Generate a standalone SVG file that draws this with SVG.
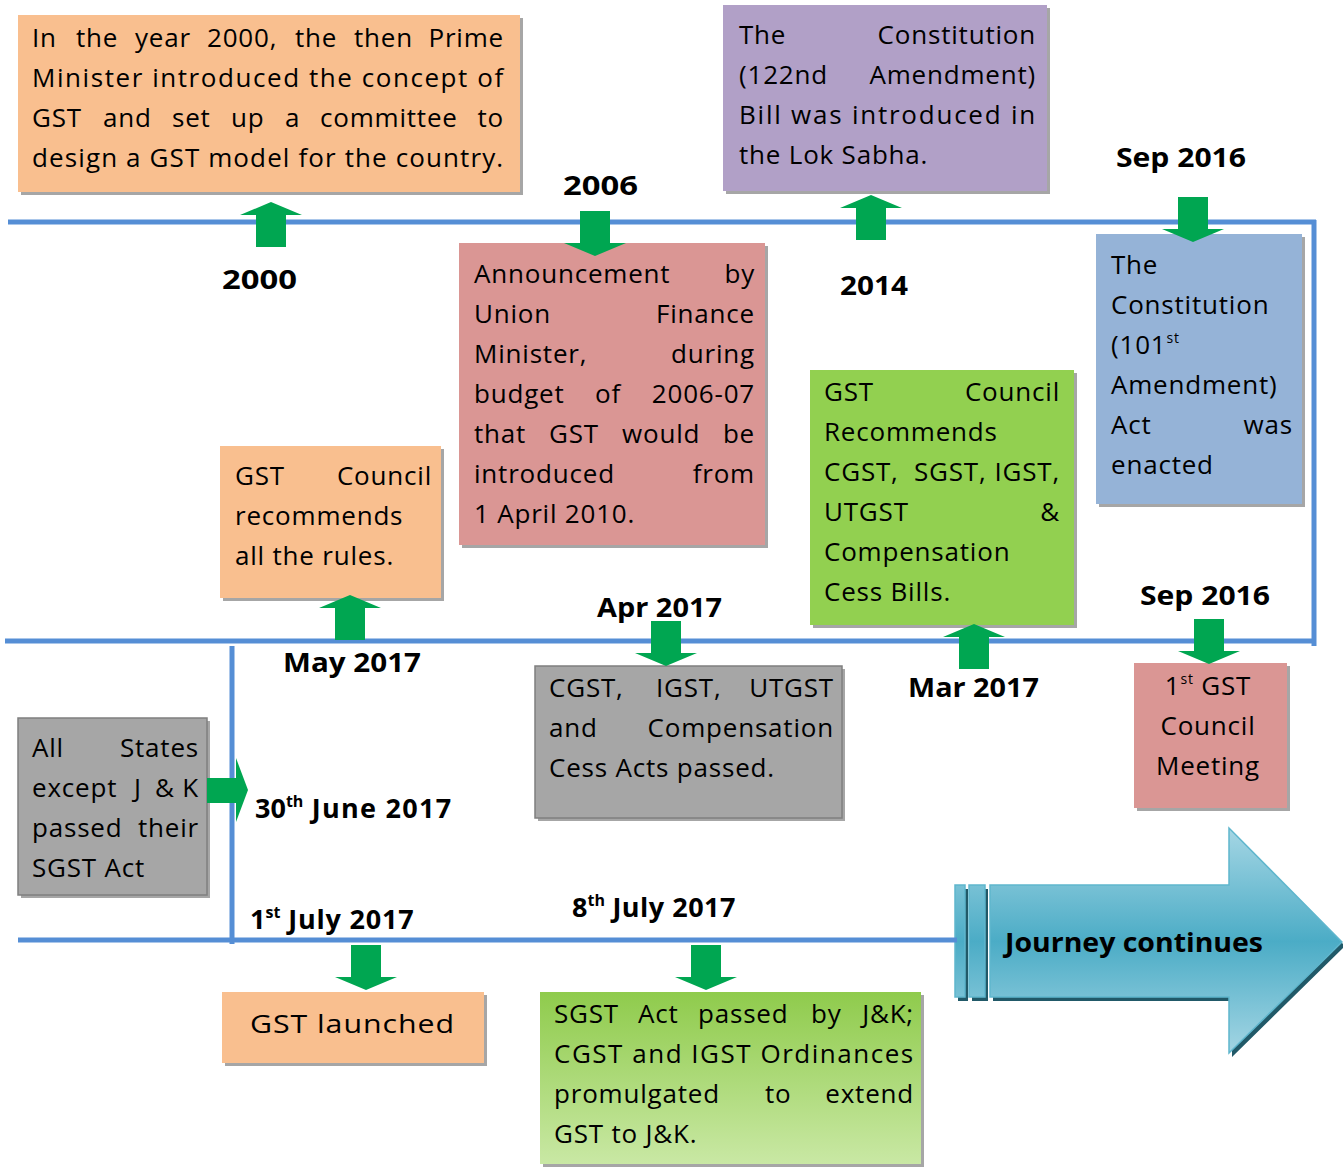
<svg xmlns="http://www.w3.org/2000/svg" width="1343" height="1168" viewBox="0 0 1343 1168">
<defs>
<style>
.t{font-family:"Open Sans","Liberation Sans",sans-serif;font-size:26px;fill:#000;letter-spacing:0.8px}
.e{text-anchor:end}
.c{text-anchor:middle}
.b{font-family:"Open Sans","Liberation Sans",sans-serif;font-size:27px;font-weight:700;fill:#000}
.sh{fill:#a6a6a6}
.ln{stroke:#558ED5;stroke-width:5;fill:none}
.ga{fill:#00A651}
</style>
<linearGradient id="jg" x1="0" y1="828" x2="0" y2="1055" gradientUnits="userSpaceOnUse">
<stop offset="0" stop-color="#A5D6E4"/>
<stop offset="0.5" stop-color="#4BACC6"/>
<stop offset="1" stop-color="#A5D6E4"/>
</linearGradient>
<linearGradient id="gg" x1="0" y1="0" x2="0" y2="1">
<stop offset="0" stop-color="#8FCB4C"/>
<stop offset="1" stop-color="#C9E8A4"/>
</linearGradient>
<path id="up" d="M-31,13 L0,0 L31,13 L15,13 L15,45 L-15,45 L-15,13 Z"/>
<path id="dn" d="M-15,0 L15,0 L15,32 L31,32 L0,45 L-31,32 L-15,32 Z"/>
</defs>

<g id="n2000">
<rect class="sh" x="21" y="18" width="502" height="177"/>
<rect x="18" y="15" width="502" height="177" fill="#F9BF8F"/>
<text class="t" x="32" y="47">In</text><text class="t" x="76" y="47">the</text><text class="t" x="135" y="47">year</text><text class="t" x="207" y="47">2000,</text><text class="t" x="295" y="47">the</text><text class="t" x="354" y="47">then</text><text class="t e" x="504" y="47">Prime</text>
<text class="t" x="32" y="87" textLength="472" lengthAdjust="spacing">Minister introduced the concept of</text>
<text class="t" x="32" y="127">GST</text><text class="t" x="103" y="127">and</text><text class="t" x="172" y="127">set</text><text class="t" x="231" y="127">up</text><text class="t" x="285" y="127">a</text><text class="t" x="320" y="127">committee</text><text class="t e" x="504" y="127">to</text>
<text class="t" x="32" y="167" textLength="472" lengthAdjust="spacing">design a GST model for the country.</text>
</g>

<g id="n2014">
<rect class="sh" x="726" y="8" width="324" height="186"/>
<rect x="723" y="5" width="324" height="186" fill="#B1A0C7"/>
<text class="t" x="739" y="44">The</text><text class="t e" x="1036" y="44">Constitution</text>
<text class="t" x="739" y="84">(122nd</text><text class="t e" x="1036" y="84">Amendment)</text>
<text class="t" x="739" y="124" textLength="297" lengthAdjust="spacing">Bill was introduced in</text>
<text class="t" x="739" y="164">the Lok Sabha.</text>
</g>

<g id="n2006">
<rect class="sh" x="462" y="246" width="306" height="302"/>
<rect x="459" y="243" width="306" height="302" fill="#DA9694"/>
<text class="t" x="474" y="283">Announcement</text><text class="t e" x="755" y="283">by</text>
<text class="t" x="474" y="323">Union</text><text class="t e" x="755" y="323">Finance</text>
<text class="t" x="474" y="363">Minister,</text><text class="t e" x="755" y="363">during</text>
<text class="t" x="474" y="403">budget</text><text class="t" x="595" y="403">of</text><text class="t e" x="755" y="403">2006-07</text>
<text class="t" x="474" y="443">that</text><text class="t" x="549" y="443">GST</text><text class="t" x="622" y="443">would</text><text class="t e" x="755" y="443">be</text>
<text class="t" x="474" y="483">introduced</text><text class="t e" x="755" y="483">from</text>
<text class="t" x="474" y="523">1 April 2010.</text>
</g>

<g id="nsep2016a">
<rect class="sh" x="1099" y="237" width="206" height="270"/>
<rect x="1096" y="234" width="206" height="270" fill="#95B3D7"/>
<text class="t" x="1111" y="274">The</text>
<text class="t" x="1111" y="314">Constitution</text>
<text class="t" x="1111" y="354">(101<tspan font-size="14" dy="-11">st</tspan></text>
<text class="t" x="1111" y="394">Amendment)</text>
<text class="t" x="1111" y="434">Act</text><text class="t e" x="1293" y="434">was</text>
<text class="t" x="1111" y="474">enacted</text>
</g>

<g id="nmar2017">
<rect class="sh" x="813" y="373" width="264" height="255"/>
<rect x="810" y="370" width="264" height="255" fill="#92D050"/>
<text class="t" x="824" y="401">GST</text><text class="t e" x="1060" y="401">Council</text>
<text class="t" x="824" y="441">Recommends</text>
<text class="t" x="824" y="481">CGST,</text><text class="t" x="914" y="481">SGST,</text><text class="t e" x="1060" y="481">IGST,</text>
<text class="t" x="824" y="521">UTGST</text><text class="t e" x="1060" y="521">&amp;</text>
<text class="t" x="824" y="561">Compensation</text>
<text class="t" x="824" y="601">Cess Bills.</text>
</g>

<g id="nmay2017">
<rect class="sh" x="223" y="449" width="221" height="152"/>
<rect x="220" y="446" width="221" height="152" fill="#F9BF8F"/>
<text class="t" x="235" y="485">GST</text><text class="t e" x="432" y="485">Council</text>
<text class="t" x="235" y="525">recommends</text>
<text class="t" x="235" y="565">all the rules.</text>
</g>

<g id="napr2017">
<rect class="sh" x="538" y="669" width="307" height="152"/>
<rect x="535" y="666" width="307" height="152" fill="#A6A6A6" stroke="#7f7f7f" stroke-width="1.5"/>
<text class="t" x="549" y="697">CGST,</text><text class="t" x="656" y="697">IGST,</text><text class="t e" x="834" y="697">UTGST</text>
<text class="t" x="549" y="737">and</text><text class="t e" x="834" y="737">Compensation</text>
<text class="t" x="549" y="777">Cess Acts passed.</text>
</g>

<g id="nsep2016b">
<rect class="sh" x="1137" y="666" width="153" height="145"/>
<rect x="1134" y="663" width="153" height="145" fill="#DA9694"/>
<text class="t c" x="1208" y="695">1<tspan font-size="14" dy="-11">st</tspan><tspan dy="11"> GST</tspan></text>
<text class="t c" x="1208" y="735">Council</text>
<text class="t c" x="1208" y="775">Meeting</text>
</g>

<g id="nstates">
<rect class="sh" x="21" y="721" width="189" height="177"/>
<rect x="18" y="718" width="189" height="177" fill="#A6A6A6" stroke="#7f7f7f" stroke-width="1.5"/>
<text class="t" x="32" y="757">All</text><text class="t e" x="199" y="757">States</text>
<text class="t" x="32" y="797">except</text><text class="t" x="134" y="797">J</text><text class="t" x="155" y="797">&amp;</text><text class="t e" x="199" y="797">K</text>
<text class="t" x="32" y="837">passed</text><text class="t e" x="199" y="837">their</text>
<text class="t" x="32" y="877">SGST Act</text>
</g>

<g id="nlaunch">
<rect class="sh" x="225" y="995" width="262" height="71"/>
<rect x="222" y="992" width="262" height="71" fill="#F9BF8F"/>
<text class="t" x="250" y="1033" font-size="29" textLength="205" lengthAdjust="spacingAndGlyphs">GST launched</text>
</g>

<g id="njk">
<rect class="sh" x="543" y="995" width="381" height="172"/>
<rect x="540" y="992" width="381" height="172" fill="url(#gg)"/>
<text class="t" x="554" y="1023">SGST</text><text class="t" x="638" y="1023">Act</text><text class="t" x="698" y="1023">passed</text><text class="t" x="811" y="1023">by</text><text class="t e" x="914" y="1023">J&amp;K;</text>
<text class="t" x="554" y="1063" textLength="360" lengthAdjust="spacing">CGST and IGST Ordinances</text>
<text class="t" x="554" y="1103">promulgated</text><text class="t" x="765" y="1103">to</text><text class="t e" x="914" y="1103">extend</text>
<text class="t" x="554" y="1143">GST to J&amp;K.</text>
</g>

<g id="njourney">
<g fill="#215968" transform="translate(3,4)">
<rect x="955" y="885" width="10" height="112"/>
<rect x="969" y="885" width="16" height="112"/>
<path d="M990,885 H1229 V828 L1342,942 L1229,1053 V997 H990 Z"/>
</g>
<g fill="url(#jg)" stroke="#5FB6CD" stroke-width="1.5">
<rect x="955" y="885" width="10" height="112"/>
<rect x="969" y="885" width="16" height="112"/>
<path d="M990,885 H1229 V828 L1342,942 L1229,1053 V997 H990 Z"/>
</g>
<text class="b" x="1005" y="952" textLength="258" lengthAdjust="spacingAndGlyphs">Journey continues</text>
</g>

<g id="connectors">
<path class="ln" d="M8,222 H1316 M1314,220 V646 M5,641 H1316 M232,646 V944 M18,940 H957"/>
<use href="#up" class="ga" x="271" y="202"/>
<use href="#dn" class="ga" x="595" y="211"/>
<use href="#up" class="ga" x="871" y="195"/>
<use href="#dn" class="ga" x="1193" y="197"/>
<use href="#up" class="ga" x="350" y="595"/>
<use href="#dn" class="ga" x="666" y="621"/>
<use href="#up" class="ga" x="974" y="624"/>
<use href="#dn" class="ga" x="1209" y="619"/>
<path class="ga" d="M207,778 H236 V758 L248,790 L236,822 V803 H207 Z"/>
<use href="#dn" class="ga" x="366" y="945"/>
<use href="#dn" class="ga" x="706" y="945"/>
</g>

<g id="labels">
<text class="b" x="222" y="289" textLength="75" lengthAdjust="spacingAndGlyphs">2000</text>
<text class="b" x="563" y="195" textLength="75" lengthAdjust="spacingAndGlyphs">2006</text>
<text class="b" x="840" y="295" textLength="68" lengthAdjust="spacingAndGlyphs">2014</text>
<text class="b" x="1116" y="167" textLength="130" lengthAdjust="spacingAndGlyphs">Sep 2016</text>
<text class="b" x="1140" y="605" textLength="130" lengthAdjust="spacingAndGlyphs">Sep 2016</text>
<text class="b" x="283" y="672" textLength="138" lengthAdjust="spacingAndGlyphs">May 2017</text>
<text class="b" x="597" y="617" textLength="125" lengthAdjust="spacingAndGlyphs">Apr 2017</text>
<text class="b" x="908" y="697" textLength="131" lengthAdjust="spacingAndGlyphs">Mar 2017</text>
<text class="b" x="255" y="818">30<tspan font-size="16" dy="-11">th</tspan><tspan dy="11" letter-spacing="1.3"> June 2017</tspan></text>
<text class="b" x="250" y="929">1<tspan font-size="16" dy="-11">st</tspan><tspan dy="11" letter-spacing="0.8"> July 2017</tspan></text>
<text class="b" x="572" y="917">8<tspan font-size="16" dy="-11">th</tspan><tspan dy="11" letter-spacing="0.5"> July 2017</tspan></text>
</g>
</svg>
